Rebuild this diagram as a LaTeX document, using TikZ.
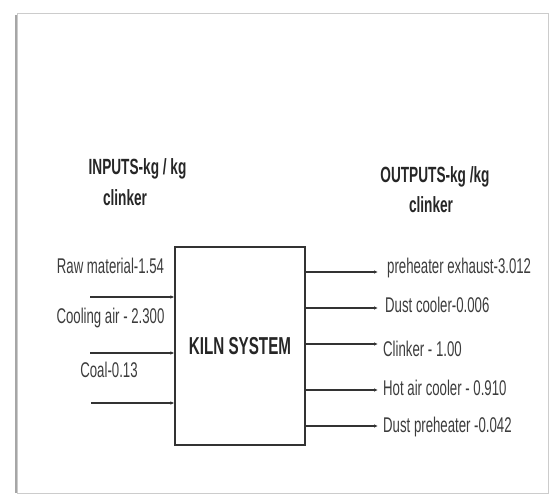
\documentclass[tikz,border=0pt]{standalone}
\usepackage{fontspec}
\setmainfont{Liberation Sans}
\newfontfamily\cond[FakeStretch=0.62]{Liberation Sans}
\usetikzlibrary{arrows.meta}
\definecolor{ln}{HTML}{333333}
\definecolor{tx}{HTML}{3C3C3C}
\tikzset{
  lbl/.style={font=\cond\fontsize{21.3}{23}\selectfont, text=tx, inner sep=0pt},
  hdr/.style={font=\cond\bfseries\fontsize{22}{24}\selectfont, text=black!85, inner sep=0pt},
  flow/.style={draw=ln, line width=1.1pt, -{Latex[length=4pt,width=3.5pt]}},
  kiln/.style={draw=ln, line width=1.2pt, minimum width=130pt, minimum height=198pt, inner sep=0pt,
    font=\cond\bfseries\fontsize{24.5}{26}\selectfont, text=black!85}
}
\begin{document}
\begin{tikzpicture}[x=1pt,y=-1pt]
\useasboundingbox (0,0) rectangle (549,494);
% frame
\draw[draw=black!20, line width=1pt] (17,14) rectangle (548,493);
\draw[draw=black!35, line width=2pt] (16,15) -- (16,493);
% headers
\node[hdr] (ih1) at (137.5,169) {INPUTS-kg / kg};
\node[hdr] (ih2) at (125,198) {clinker};
\node[hdr] (oh1) at (435,177) {OUTPUTS-kg /kg};
\node[hdr] (oh2) at (431,205) {clinker};
% box
\node[kiln] (box) at (240,346) {KILN SYSTEM};
% inputs
\node[lbl] (raw) at (110.5,266) {Raw material-1.54};
\node[lbl] (cool) at (110.5,318) {Cooling air - 2.300};
\node[lbl] (coal) at (109,370) {Coal-0.13};
\coordinate (i1) at (90,297);
\coordinate (i2) at (90,353);
\coordinate (i3) at (91,403);
\draw[flow] (i1) -- (i1 -| box.west);
\draw[flow] (i2) -- (i2 -| box.west);
\draw[flow] (i3) -- (i3 -| box.west);
% outputs
\coordinate (o1) at (378,272);
\coordinate (o2) at (378,308);
\coordinate (o3) at (378,344);
\coordinate (o4) at (378,390);
\coordinate (o5) at (378,426);
\draw[flow] (o1 -| box.east) -- (o1);
\draw[flow] (o2 -| box.east) -- (o2);
\draw[flow] (o3 -| box.east) -- (o3);
\draw[flow] (o4 -| box.east) -- (o4);
\draw[flow] (o5 -| box.east) -- (o5);
\node[lbl, anchor=west] (l1) at (387,268) {preheater exhaust-3.012};
\node[lbl, anchor=west] (l2) at (385,305) {Dust cooler-0.006};
\node[lbl, anchor=west] (l3) at (383,349) {Clinker - 1.00};
\node[lbl, anchor=west] (l4) at (383,388) {Hot air cooler - 0.910};
\node[lbl, anchor=west] (l5) at (383,427) {Dust preheater -0.042};
\end{tikzpicture}
\end{document}
